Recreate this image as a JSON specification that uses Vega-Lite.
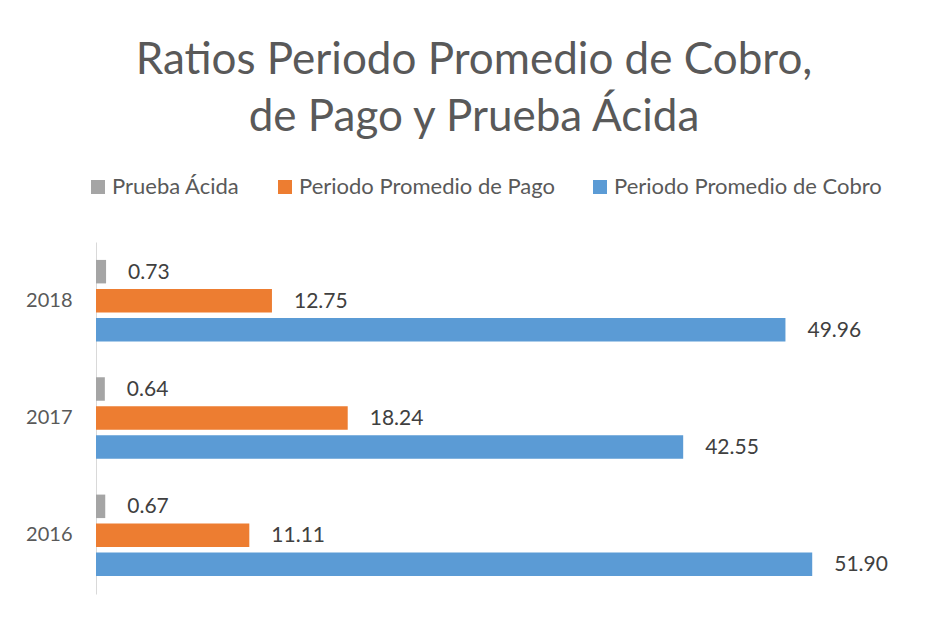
{
  "$schema": "https://vega.github.io/schema/vega-lite/v6.json",
  "width": 828,
  "height": 352,
  "autosize": {"type": "none"},
  "padding": {"left": 96, "top": 242, "right": 16, "bottom": 25},
  "background": "white",
  "title": {
    "text": ["Ratios Periodo Promedio de Cobro,", "de Pago y Prueba Ácida"],
    "font": "Lato",
    "fontSize": 44,
    "fontWeight": "normal",
    "color": "#595959",
    "lineHeight": 57,
    "offset": 36,
    "dx": -36,
    "anchor": "middle"
  },
  "data": {
    "values": [
      {"year": "2018", "serie": "Prueba Ácida", "value": 0.73},
      {"year": "2018", "serie": "Periodo Promedio de Pago", "value": 12.75},
      {"year": "2018", "serie": "Periodo Promedio de Cobro", "value": 49.96},
      {"year": "2017", "serie": "Prueba Ácida", "value": 0.64},
      {"year": "2017", "serie": "Periodo Promedio de Pago", "value": 18.24},
      {"year": "2017", "serie": "Periodo Promedio de Cobro", "value": 42.55},
      {"year": "2016", "serie": "Prueba Ácida", "value": 0.67},
      {"year": "2016", "serie": "Periodo Promedio de Pago", "value": 11.11},
      {"year": "2016", "serie": "Periodo Promedio de Cobro", "value": 51.90}
    ]
  },
  "encoding": {
    "y": {
      "field": "year",
      "type": "nominal",
      "sort": ["2018", "2017", "2016"],
      "scale": {"paddingInner": 0, "paddingOuter": 0},
      "title": null,
      "axis": {
        "domain": true,
        "domainColor": "#D9D9D9",
        "domainWidth": 1,
        "ticks": false,
        "labelPadding": 24,
        "labelFont": "Lato",
        "labelFontSize": 20,
        "labelColor": "#595959",
        "grid": false
      }
    },
    "yOffset": {
      "field": "serie",
      "type": "nominal",
      "sort": ["Prueba Ácida", "Periodo Promedio de Pago", "Periodo Promedio de Cobro"],
      "scale": {"paddingInner": 0.19, "paddingOuter": 0.618}
    },
    "x": {
      "field": "value",
      "type": "quantitative",
      "scale": {"domain": [0, 60], "nice": false},
      "axis": null
    }
  },
  "layer": [
    {
      "mark": {"type": "bar"},
      "encoding": {
        "color": {
          "field": "serie",
          "type": "nominal",
          "scale": {
            "domain": ["Prueba Ácida", "Periodo Promedio de Pago", "Periodo Promedio de Cobro"],
            "range": ["#A5A5A5", "#ED7D31", "#5B9BD5"]
          },
          "legend": {
            "orient": "none",
            "legendX": -9,
            "legendY": -66,
            "direction": "horizontal",
            "title": null,
            "symbolType": "square",
            "symbolSize": 196,
            "symbolStrokeWidth": 0,
            "labelFont": "Lato",
            "labelFontSize": 22,
            "labelColor": "#595959",
            "labelLimit": 0,
            "labelOffset": 3,
            "columnPadding": 34
          }
        }
      }
    },
    {
      "mark": {
        "type": "text",
        "align": "left",
        "baseline": "middle",
        "dx": 22,
        "dy": 1,
        "font": "Lato",
        "fontSize": 21,
        "color": "#404040"
      },
      "encoding": {
        "text": {"field": "value", "type": "quantitative", "format": ".2f"}
      }
    }
  ],
  "config": {"view": {"stroke": null}}
}
